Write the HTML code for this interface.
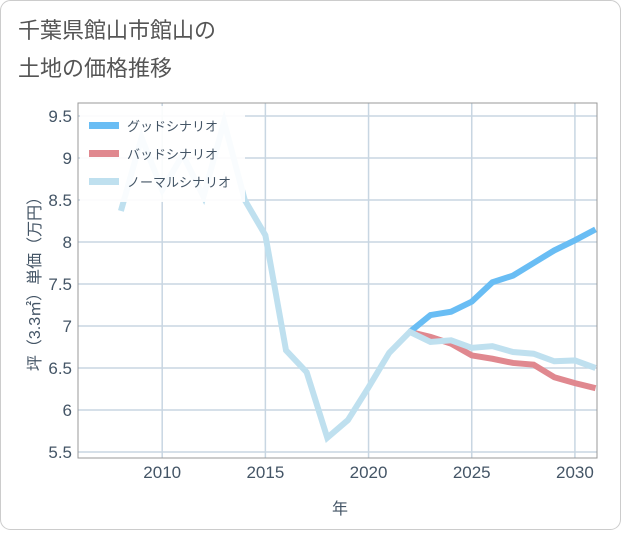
<!DOCTYPE html>
<html><head><meta charset="utf-8"><style>
body{margin:0;background:#fff;font-family:"Liberation Sans","Noto Sans CJK JP",sans-serif;}
svg text{font-family:"Liberation Sans","Noto Sans CJK JP",sans-serif;}
</style></head><body>
<svg id="chart" width="621" height="530">
<rect x="0.5" y="0.5" width="620" height="529" rx="10" fill="#fff" stroke="#ccc"/>
<text x="18" y="38" font-size="22" fill="#555">千葉県館山市館山の</text>
<text x="18" y="76" font-size="22" fill="#555">土地の価格推移</text>
<g id="grid"></g>
<g id="lines"></g>
<rect x="78" y="103" width="519" height="355" fill="none" stroke="#999"/>
<g id="legend"></g>
<text x="340" y="514" font-size="16" fill="#456" text-anchor="middle">年</text>
<text transform="translate(40,280) rotate(-90)" font-size="16" fill="#456" text-anchor="middle">坪（3.3㎡）単価（万円）</text>
</svg>
<script>
const years=[2008,2009,2010,2011,2012,2013,2014,2015,2016,2017,2018,2019,2020,2021,2022,2023,2024,2025,2026,2027,2028,2029,2030,2031];
const normal=[8.37,9.24,8.62,9.04,8.54,9.43,8.5,8.08,6.71,6.45,5.67,5.88,6.27,6.68,6.93,6.81,6.83,6.74,6.76,6.69,6.67,6.58,6.59,6.5];
const goodYears=[2022,2023,2024,2025,2026,2027,2028,2029,2030,2031];
const good=[6.93,7.13,7.17,7.29,7.52,7.6,7.75,7.9,8.02,8.15];
const bad=[6.93,6.87,6.79,6.65,6.61,6.56,6.54,6.39,6.32,6.26];
const xTicks=[2010,2015,2020,2025,2030];
const yTicks=[5.5,6,6.5,7,7.5,8,8.5,9,9.5];
const NS='http://www.w3.org/2000/svg';
const X=v=>78+(v-2005.92)*(519/25.15);
const Y=v=>116+(9.5-v)*84;
function mk(t,a,p){const e=document.createElementNS(NS,t);for(const k in a)e.setAttribute(k,a[k]);p.appendChild(e);return e;}
const grid=document.getElementById('grid');
yTicks.forEach(t=>{const y=Y(t);
const l=mk('line',{x1:78,x2:597,y1:y,y2:y,stroke:'#c8d6e2','stroke-width':1.5},grid);

const tx=mk('text',{x:72,y:y+6,'font-size':17,fill:'#456','text-anchor':'end'},grid);tx.textContent=t;
});
xTicks.forEach(t=>{const x=X(t);
const l=mk('line',{x1:x,x2:x,y1:103,y2:458,stroke:'#c8d6e2','stroke-width':1.5},grid);

const tx=mk('text',{x:x,y:478,'font-size':17,fill:'#456','text-anchor':'middle'},grid);tx.textContent=t;
});
const lines=document.getElementById('lines');
function series(xs,vs,c,n){const p=mk('polyline',{points:xs.map((x,i)=>X(x)+','+Y(vs[i])).join(' '),fill:'none',stroke:c,'stroke-width':6,'stroke-linejoin':'miter'},lines);
}
series(goodYears,bad,'#e0888f','bad-scenario-line');
series(goodYears,good,'#69bdf4','good-scenario-line');
series(years,normal,'#bfe0ef','normal-scenario-line');
const lg=document.getElementById('legend');
const bg=mk('rect',{x:80,y:106,width:165,height:96,fill:'#fff','fill-opacity':0.9},lg);

[['グッドシナリオ','#69bdf4'],['バッドシナリオ','#e0888f'],['ノーマルシナリオ','#bfe0ef']].forEach((d,i)=>{const y=126+i*28;
const r=mk('rect',{x:89,y:y-4,width:30,height:7,fill:d[1]},lg);

const t=mk('text',{x:127,y:y+5,'font-size':13,fill:'#456'},lg);t.textContent=d[0];
});
</script>
</body></html>
